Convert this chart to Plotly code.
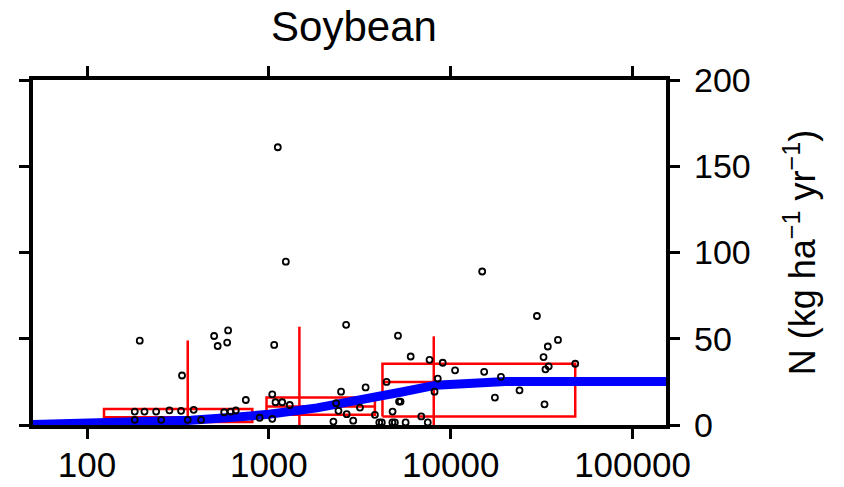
import plotly.graph_objects as go

# ---- data ----
title_text = "Soybean"
y_title = "N (kg ha<sup>−1</sup> yr<sup>−1</sup>)"

x_tickvals = [100, 1000, 10000, 100000]
x_ticktext = ["100", "1000", "10000", "100000"]
y_tickvals = [0, 50, 100, 150, 200]
y_ticktext = ["0", "50", "100", "150", "200"]

# scatter observations
pts_x = [1120, 1240, 195, 500, 523, 597, 590, 1070, 2660, 333, 5130, 14900,
         183, 207, 240, 284, 329, 386, 568, 617, 658, 747, 183, 256, 358, 424, 890,
         1044, 1088, 1184, 1303, 1044, 2495, 3405, 2344, 2415, 2680, 2910, 2265, 3830, 3170,
         6025, 7650, 9040, 10570, 8490, 8150, 4440, 5200, 5300, 4790, 6890,
         4050, 4180, 4780, 4930, 5650, 7480,
         29800, 38900, 34200, 32400, 34600, 33200, 48400, 15280, 18900, 23900, 17500, 32800]
pts_y = [161.0, 94.7, 48.9, 51.6, 45.8, 54.8, 47.8, 46.4, 58.1, 28.7, 51.8, 89.0,
         7.8, 7.8, 7.8, 8.5, 8.2, 8.8, 7.4, 7.8, 8.4, 14.5, 3.0, 3.0, 3.0, 3.0, 4.2,
         17.8, 13.2, 13.2, 11.6, 3.6, 19.3, 21.8, 12.6, 8.2, 6.3, 2.5, 2.0, 5.9, 10.1,
         39.7, 37.8, 36.1, 31.7, 26.9, 19.3, 25.0, 13.6, 13.6, 7.8, 5.0,
         1.5, 1.5, 1.5, 1.5, 1.5, 1.5,
         63.2, 49.3, 45.5, 39.4, 34.0, 32.3, 35.5, 30.8, 27.9, 20.1, 15.9, 12.0]

# binned boxes
box_x_lo = [124, 971, 4215]
box_x_hi = [811, 3830, 48400]
box_q1 = [1.7, 5.9, 5.0]
box_med = [4.5, 10.7, 25.0]
box_q3 = [9.3, 15.9, 35.5]
whisker_x = [358, 1472, 8070]
whisker_lo = [0, 0, 0]
whisker_hi = [49, 57, 51.4]

# fitted curve
curve_x = [50, 106, 373, 700, 1000, 1840, 2770, 3700, 5470, 8300, 14300, 20000, 153000]
curve_y = [0.3, 1.1, 2.7, 4.8, 6.2, 9.9, 13.0, 15.6, 19.3, 23.1, 24.8, 25.2, 25.2]

FONT = "Liberation Sans, Arial, Helvetica, sans-serif"
RED = "#ff0000"

W, H = 844, 487
ML, MR, MT, MB = 33, 151, 80, 62
PLOT_RIGHT = 666          # pixel where the frame's right edge sits
x_dom_end = (PLOT_RIGHT - ML) / (W - MR - ML)

fig = go.Figure()

for i in range(len(box_x_lo)):
    x0, x1 = box_x_lo[i], box_x_hi[i]
    fig.add_trace(go.Scatter(
        x=[x0, x1, x1, x0, x0, None, x0, x1, None, whisker_x[i], whisker_x[i]],
        y=[box_q1[i], box_q1[i], box_q3[i], box_q3[i], box_q1[i], None,
           box_med[i], box_med[i], None, whisker_lo[i], whisker_hi[i]],
        mode="lines", line=dict(color=RED, width=2.5),
        hoverinfo="skip", showlegend=False))
fig.add_trace(go.Scatter(x=curve_x, y=curve_y, mode="lines",
                         line=dict(color="#0000ff", width=9),
                         showlegend=False))
fig.add_trace(go.Scatter(x=pts_x, y=pts_y, mode="markers", yaxis="y2",
                         marker=dict(symbol="circle-open", size=6,
                                     color="black", line=dict(width=1.8, color="black")),
                         showlegend=False))

axis_common = dict(showgrid=False, zeroline=False, showline=True, linewidth=4,
                   linecolor="black", mirror="ticks", ticks="outside",
                   ticklen=10, tickwidth=2.5, tickcolor="black", automargin=False)

fig.update_layout(
    xaxis=dict(type="log", range=[1.703, 5.184], domain=[0, x_dom_end],
               tickvals=x_tickvals, ticktext=x_ticktext, ticklabelstandoff=-4,
               tickfont=dict(family=FONT, size=35, color="black"),
               **axis_common),
    yaxis=dict(range=[0, 200], side="right", anchor="x", tickvals=y_tickvals,
               showticklabels=False, **axis_common),
    yaxis2=dict(range=[0, 200], overlaying="y", side="right", anchor="free",
                position=1, showline=False, showgrid=False, zeroline=False,
                ticks="", tickvals=y_tickvals, ticktext=y_ticktext, automargin=False,
                tickfont=dict(family=FONT, size=34, color="black"),
                title=dict(text=y_title, font=dict(family=FONT, size=36, color="black"),
                           standoff=40)),
    width=W, height=H,
    margin=dict(l=ML, r=MR, t=MT, b=MB, pad=0),
    paper_bgcolor="white", plot_bgcolor="white",
    title=dict(text=title_text, font=dict(family=FONT, size=42, color="black"),
               x=354 / W, xref="container", xanchor="center",
               y=1 - 26 / H, yref="container", yanchor="middle", automargin=False),
    showlegend=False,
)

fig.write_html("out.html", config={"displayModeBar": False},
               post_script="document.body.style.margin='0';")
